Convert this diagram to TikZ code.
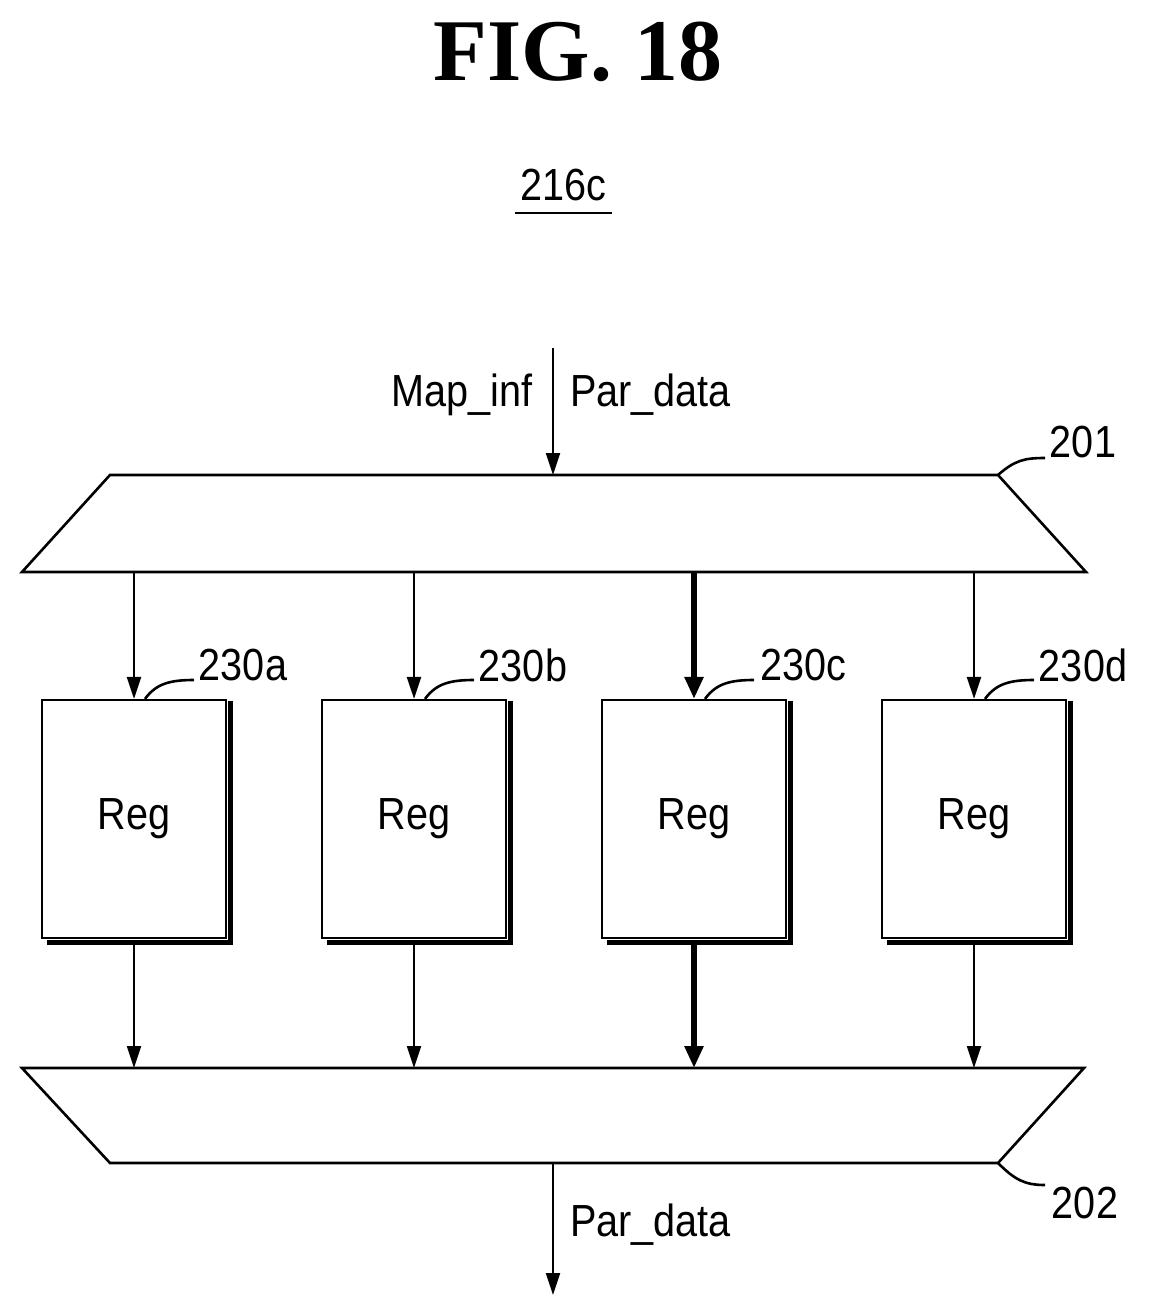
\documentclass[tikz,border=0pt]{standalone}
\usepackage{fontspec}
\setmainfont{Liberation Sans}[FakeStretch=0.88]
\newfontfamily\serifb{Liberation Serif}
\usetikzlibrary{arrows.meta}
\begin{document}
\begin{tikzpicture}[x=1pt,y=-1pt,
  ln/.style={line width=2.6pt},
  ar/.style={line width=2.2pt,-{Triangle[length=22pt,width=14pt]}},
  tar/.style={line width=6pt,-{Triangle[length=22pt,width=18pt]}},
  lbl/.style={font=\fontsize{45}{45}\selectfont,inner sep=0pt},
  reg/.style={draw,line width=2.2pt,minimum width=184pt,minimum height=238pt,font=\fontsize{45}{45}\selectfont,inner sep=0pt},
  shad/.style={line width=5pt}]
\useasboundingbox (0,0) rectangle (1150,1316);
\node[font=\serifb\bfseries\fontsize{88}{88}\selectfont] (title) at (578,52) {FIG. 18};
\node[lbl] (ref) at (563,185) {216c};
\draw[ln] (515,213) -- (612,213);
% top mux
\draw[ln] (110,475) -- (998,475) -- (1086,572) -- (22,572) -- cycle;
\coordinate (in) at (553,348);
\coordinate (muxin) at (553,475);
\draw[ar] (in) -- (muxin);
\node[lbl,anchor=east] (mi) at (533,395) {Map\_inf};
\node[lbl,anchor=west] (pd) at (570,395) {Par\_data};
\coordinate (l1a) at (998,475);
\node[lbl] (n201) at (1083,442) {201};
\draw[ln] (l1a) .. controls (1015,460) and (1025,458) .. (1045,458);
% registers
\foreach \n/\x/\t in {a/134/230a,b/414/230b,c/694/230c,d/974/230d}{
  \node[reg] (r\n) at (\x,819) {Reg};
  \draw[shad] ([xshift=3pt,yshift=-2pt]r\n.north east) -- ([xshift=3pt,yshift=-3pt]r\n.south east) -- ([xshift=6pt,yshift=-3pt]r\n.south west);
  \node[lbl] (t\n) at (\x+109,665) {\t};
  \draw[ln] ([xshift=11pt]r\n.north) .. controls (\x+22,684) and (\x+35,680) .. (\x+60,680);
  \coordinate (s\n) at (\x,572);
  \coordinate (e\n) at (\x,1068);
}
\draw[ar] (sa) -- (ra.north);
\draw[ar] (sb) -- (rb.north);
\draw[tar] (sc) -- (rc.north);
\draw[ar] (sd) -- (rd.north);
\draw[ar] ([yshift=-6pt]ra.south) -- (ea);
\draw[ar] ([yshift=-6pt]rb.south) -- (eb);
\draw[tar] ([yshift=-6pt]rc.south) -- (ec);
\draw[ar] ([yshift=-6pt]rd.south) -- (ed);
% bottom mux
\draw[ln] (22,1068) -- (1084,1068) -- (998,1163) -- (110,1163) -- cycle;
\coordinate (mo) at (553,1163);
\coordinate (out) at (553,1295);
\draw[ar] (mo) -- (out);
\node[lbl,anchor=west] (pd2) at (570,1225) {Par\_data};
\coordinate (l2a) at (998,1163);
\node[lbl] (n202) at (1085,1203) {202};
\draw[ln] (l2a) .. controls (1015,1180) and (1025,1185) .. (1045,1185);
\end{tikzpicture}
\end{document}
